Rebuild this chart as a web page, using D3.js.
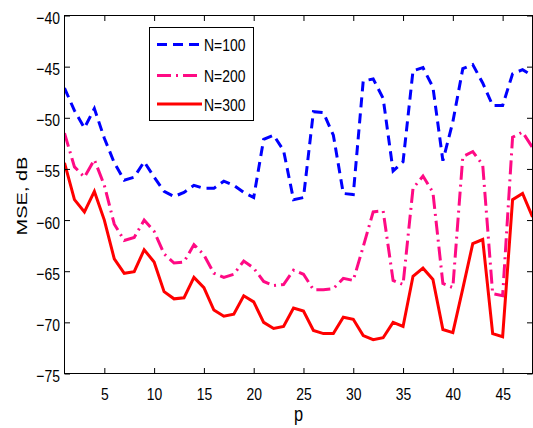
<!DOCTYPE html>
<html>
<head>
<meta charset="utf-8">
<script src="https://cdn.jsdelivr.net/npm/d3@7/dist/d3.min.js"></script>
<style>
body { margin: 0; background: #fff; }
text { font-family: "Liberation Sans", Arial, sans-serif; fill: #000; }
</style>
</head>
<body>
<div id="chart"></div>
<script>
'use strict'

var width = 533;
var height = 428;

// p = 1..48
var pValues = d3.range(1, 49);

var mse100 = [-47.1, -49.3, -51.0, -49.1, -52.0, -54.4, -56.1, -55.8, -54.3, -55.8,
    -57.2, -57.7, -57.3, -56.6, -56.9, -56.9, -56.2, -56.6, -57.3, -57.8,
    -52.1, -51.7, -53.2, -58.0, -57.8, -49.4, -49.5, -51.7, -57.4, -57.5,
    -46.4, -46.2, -48.1, -55.2, -54.3, -45.4, -45.1, -47.0, -54.2, -50.4,
    -45.2, -44.8, -46.6, -48.8, -48.8, -45.7, -45.3, -45.9];

var mse200 = [-51.5, -54.8, -55.8, -54.1, -56.6, -60.4, -62.0, -61.7, -60.0, -61.1,
    -63.3, -64.2, -64.1, -62.4, -63.4, -65.2, -65.6, -65.3, -64.0, -64.7,
    -66.0, -66.4, -66.3, -64.9, -65.3, -66.8, -66.8, -66.7, -65.7, -65.9,
    -62.6, -59.2, -59.1, -65.9, -66.3, -56.9, -55.7, -57.3, -66.2, -66.6,
    -53.8, -53.3, -54.6, -67.2, -67.4, -51.9, -51.4, -52.9];

var mse300 = [-54.4, -58.0, -59.2, -57.2, -60.0, -63.8, -65.2, -65.05, -62.9, -64.1,
    -67.0, -67.7, -67.6, -65.6, -66.6, -68.8, -69.4, -69.2, -67.4, -68.0,
    -70.0, -70.6, -70.4, -68.6, -68.9, -70.8, -71.1, -71.1, -69.5, -69.7,
    -71.3, -71.7, -71.5, -70.0, -70.4, -65.5, -64.7, -65.8, -70.7, -71.0,
    -66.7, -62.3, -61.9, -71.1, -71.4, -58.0, -57.4, -59.7];

var seriesNames = ["N=100", "N=200", "N=300"];
var seriesColors = ["#0000ff", "#ff0a84", "#ff0000"];
var seriesDash = ["10,6", "14,5,2,5", null];

var xTicks = [5, 10, 15, 20, 25, 30, 35, 40, 45];
var yTicks = [-75, -70, -65, -60, -55, -50, -45, -40];

// plot box edges (top/bottom are taken by window, so prefixed)
var pLeft = 64.5, pRight = 532.5, pTop = 15.5, pBottom = 373.5;

// the text in the picture is tall and narrow, squeeze it sideways
var squeeze = 0.82;
var tickFont = 17;
var labelFont = 20;

var x = d3.scaleLinear().domain([1, 48]).range([pLeft, pRight]);
var y = d3.scaleLinear().domain([-75, -40]).range([pBottom, pTop]);

var svg = d3.select("#chart").append("svg")
    .attr("width", width).attr("height", height);

//lines
var line = d3.line()
    .x(function(d, i) { return x(pValues[i]); })
    .y(function(d) { return y(d); });

var allSeries = [mse100, mse200, mse300];

svg.append("defs").append("clipPath").attr("id", "plotClip")
    .append("rect").attr("x", pLeft).attr("y", pTop)
    .attr("width", pRight - pLeft).attr("height", pBottom - pTop);

var plot = svg.append("g").attr("clip-path", "url(#plotClip)");

allSeries.forEach(function(s, k) {
    plot.append("path")
        .datum(s)
        .attr("d", line)
        .attr("fill", "none")
        .attr("stroke", seriesColors[k])
        .attr("stroke-width", 3)
        .attr("stroke-linejoin", "miter")
        .attr("stroke-dasharray", seriesDash[k]);
});

// axes, ticks inside on all four sides
var tickLen = 5.5;
var fmt = function(d) { return String(d).replace("-", "\u2212"); };

svg.append("g").attr("transform", "translate(0," + pBottom + ")")
    .call(d3.axisBottom(x).tickValues(xTicks).tickSizeInner(-tickLen).tickSizeOuter(0))
    .call(function(g) {
        g.select(".domain").remove();
        g.selectAll("text")
            .attr("font-size", tickFont + "px")
            .attr("font-family", "Liberation Sans, Arial, sans-serif")
            .attr("y", 26.5).attr("dy", null)
            .attr("transform", "scale(" + squeeze + ",1)");
    });

svg.append("g").attr("transform", "translate(0," + pTop + ")")
    .call(d3.axisTop(x).tickValues(xTicks).tickSizeInner(-tickLen).tickSizeOuter(0).tickFormat(""))
    .call(function(g) { g.select(".domain").remove(); });

svg.append("g").attr("transform", "translate(" + pLeft + ",0)")
    .call(d3.axisLeft(y).tickValues(yTicks).tickSizeInner(-tickLen).tickSizeOuter(0).tickFormat(fmt))
    .call(function(g) {
        g.select(".domain").remove();
        g.selectAll("text")
            .attr("font-size", tickFont + "px")
            .attr("font-family", "Liberation Sans, Arial, sans-serif")
            .attr("x", -4.5 / squeeze).attr("dy", "0.47em")
            .attr("transform", "scale(" + squeeze + ",1)");
    });

svg.append("g").attr("transform", "translate(" + pRight + ",0)")
    .call(d3.axisRight(y).tickValues(yTicks).tickSizeInner(-tickLen).tickSizeOuter(0).tickFormat(""))
    .call(function(g) { g.select(".domain").remove(); });

svg.append("rect")
    .attr("x", pLeft).attr("y", pTop)
    .attr("width", pRight - pLeft).attr("height", pBottom - pTop)
    .attr("fill", "none").attr("stroke", "#000").attr("stroke-width", 1);

// axis labels
svg.append("text")
    .attr("transform", "translate(" + x(24.5) + ",421) scale(" + squeeze + ",1)")
    .attr("text-anchor", "middle")
    .attr("font-size", labelFont + "px")
    .text("p");

svg.append("text")
    .attr("transform", "translate(27," + ((pTop + pBottom) / 2 + 1.5) + ") rotate(-90) scale(1,0.75)")
    .attr("text-anchor", "middle")
    .attr("font-size", labelFont + "px")
    .text("MSE, dB");

// legend
var legend = svg.append("g");
legend.append("rect")
    .attr("x", 149.5).attr("y", 27.5)
    .attr("width", 104).attr("height", 93)
    .attr("fill", "#fff").attr("stroke", "#000").attr("stroke-width", 1);

var legendY = [44.5, 75.5, 104];
seriesNames.forEach(function(name, k) {
    legend.append("line")
        .attr("x1", 157).attr("x2", 202)
        .attr("y1", legendY[k]).attr("y2", legendY[k])
        .attr("stroke", seriesColors[k])
        .attr("stroke-width", 3)
        .attr("stroke-dasharray", seriesDash[k]);
    legend.append("text")
        .attr("transform", "translate(204," + (legendY[k] + 6.5) + ") scale(" + squeeze + ",1)")
        .attr("font-size", tickFont + "px")
        .text(name);
});
</script>
</body>
</html>
